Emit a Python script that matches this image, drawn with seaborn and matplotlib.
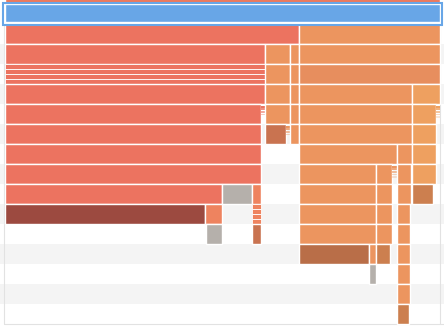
import matplotlib
matplotlib.use("Agg")
import matplotlib.pyplot as plt
import seaborn as sns

# ---------------- data (icicle partition: depth, offset, value) ----------------
depth = [-1, 0,
         1, 1,
         2, 2, 2, 2,
         3, 3, 3, 3,
         4, 4, 4, 4, 4,
         5, 5, 5, 5, 5, 5, 5,
         6, 6, 6, 6, 6, 6,
         7, 7, 7, 7,
         8, 8, 8, 8, 8, 8,
         9, 9, 9, 9, 9, 9, 9,
         10, 10, 10, 10, 10, 10,
         11, 11, 11, 11, 11,
         12, 12, 12, 12,
         13, 13,
         14,
         15]
offset = [0, 0,
          0, 293.5,
          0, 259.5, 284.5, 293.5,
          0, 259.5, 284.5, 293.5,
          0, 259.5, 284.5, 293.5, 407,
          0, 256, 259.5, 284.5, 293.5, 407, 430.5,
          0, 259.5, 280.5, 284.5, 293.5, 407,
          0, 293.5, 391.5, 407,
          0, 293.5, 370.5, 386.5, 391.5, 407,
          0, 216.5, 246.5, 293.5, 370.5, 391.5, 407,
          0, 200, 246.5, 293.5, 370.5, 391.5,
          200.5, 246.5, 293.5, 370.5, 391.5,
          293.5, 363.5, 370.5, 391.5,
          363.5, 391.5,
          391.5,
          391.5]
value = [435, 435,
         293.5, 141.5,
         259.5, 25, 9, 141.5,
         259.5, 25, 9, 141.5,
         259.5, 25, 9, 113.5, 28,
         256, 3.5, 25, 9, 113.5, 23.5, 4.5,
         256, 21, 4, 9, 113.5, 23.5,
         256, 98, 15.5, 23.5,
         256, 77, 16, 5, 14.5, 23.5,
         216.5, 30, 9.5, 77, 16, 14.5, 21,
         200, 16.5, 9.5, 77, 16, 13,
         16, 9.5, 77, 16, 13,
         70, 7, 14.5, 13,
         7.5, 13,
         13,
         12]
kind = ["top", "root",
        "red", "orange",
        "red", "orange", "orange", "orange",
        "red", "orange", "orange", "orange2",
        "red", "orange", "orange", "orange", "light",
        "red", "red", "orange", "orange", "orange", "light", "light",
        "red", "darkorange", "orange", "orange", "orange", "light",
        "red", "orange", "orange", "light",
        "red", "orange", "orange", "orange", "orange", "light",
        "red", "gray", "coral", "orange", "orange", "orange", "brown",
        "darkred", "coral", "coral", "orange", "orange", "orange",
        "gray", "darkorange", "orange", "orange", "orange",
        "darkbrown", "orange", "brown", "orange",
        "gray", "orange",
        "orange",
        "brown"]
# how many stacked sub-items a cell holds and how they are stacked
lanes = [1, 1,
         1, 1,
         1, 1, 1, 1,
         4, 1, 1, 1,
         1, 1, 1, 1, 1,
         1, 4, 1, 1, 1, 1, 5,
         1, 1, 4, 1, 1, 1,
         1, 1, 1, 1,
         1, 1, 1, 5, 1, 1,
         1, 1, 1, 1, 1, 1, 1,
         1, 1, 4, 1, 1, 1,
         1, 1, 1, 1, 1,
         1, 1, 1, 1,
         1, 1,
         1,
         1]
stack = ["", "",
         "", "",
         "", "", "", "",
         "strip", "", "", "",
         "", "", "", "", "",
         "", "ladder", "", "", "", "", "ladder",
         "", "", "ladder", "", "", "",
         "", "", "", "",
         "", "", "", "ladder", "", "",
         "", "", "", "", "", "", "",
         "", "", "strip", "", "", "",
         "", "", "", "", "",
         "", "", "", "",
         "", "",
         "",
         ""]

PALETTE = {
    "top": "#ec7a5e", "root": "#68a6e7", "red": "#ec7360", "orange": "#ec955f",
    "orange2": "#e78e5e", "light": "#eea060", "darkred": "#9c4a40",
    "darkorange": "#c97350", "brown": "#cc7f4f", "darkbrown": "#b96e48",
    "gray": "#b5b0ab", "coral": "#ee835f",
}
RING = "#68a6e7"
STRIPE = "#f4f4f4"
GRID = "#e2e2e2"

# ---------------- figure ----------------
sns.set_theme(style="white")
W, H, DPI = 444, 326, 100
fig = plt.figure(figsize=(W / DPI, H / DPI), dpi=DPI)
fig.patch.set_facecolor("white")
ax = fig.add_axes([0, 0, 1, 1])
ax.set_facecolor("white")

n_rows = max(depth) + 1
total = max(value)
ax.set_xlim(-5, W - 5)
ax.set_ylim((H - 4) / 20, -4 / 20)

# alternating row background
for r in range(2, n_rows, 2):
    ax.axhspan(r, r + 1, color=STRIPE, lw=0, zorder=0)
ax.plot([-1, -1], [1, n_rows], color=GRID, lw=0.8, zorder=0.5)
ax.plot([total - 0.5, total - 0.5], [1, n_rows], color=GRID, lw=0.8, zorder=0.5)
ax.plot([-1, W], [n_rows, n_rows], color=GRID, lw=0.8, zorder=0.5)

for d, o, v, k, n, s in zip(depth, offset, value, kind, lanes, stack):
    c = PALETTE[k]
    if s == "strip":
        h = 1.0 / n
        for i in range(n):
            ax.barh(d + (i + 0.5) * h, v, left=o, height=h, color=c,
                    edgecolor="white", linewidth=0.6, zorder=2)
    elif s == "ladder":
        h = 0.13
        for i in range(n):
            ax.barh(d + 0.07 + (i + 0.5) * h, v, left=o, height=h * 0.7,
                    color=c, alpha=max(0.25, 1 - i * 0.2), linewidth=0, zorder=2)
    elif k == "root":
        ax.barh(d + 0.45, v, left=o, height=0.9, color=c,
                edgecolor="white", linewidth=1.0, zorder=2)
        ax.barh(d + 0.5, v + 3.5, left=o - 2, height=1.1, fill=False,
                edgecolor=RING, linewidth=1.5, zorder=3)
    else:
        ax.barh(d + 0.5, v, left=o, height=1.0, color=c,
                edgecolor="white", linewidth=1.0, zorder=2)

ax.set_axis_off()
fig.savefig("out.png", dpi=DPI, facecolor="white")
